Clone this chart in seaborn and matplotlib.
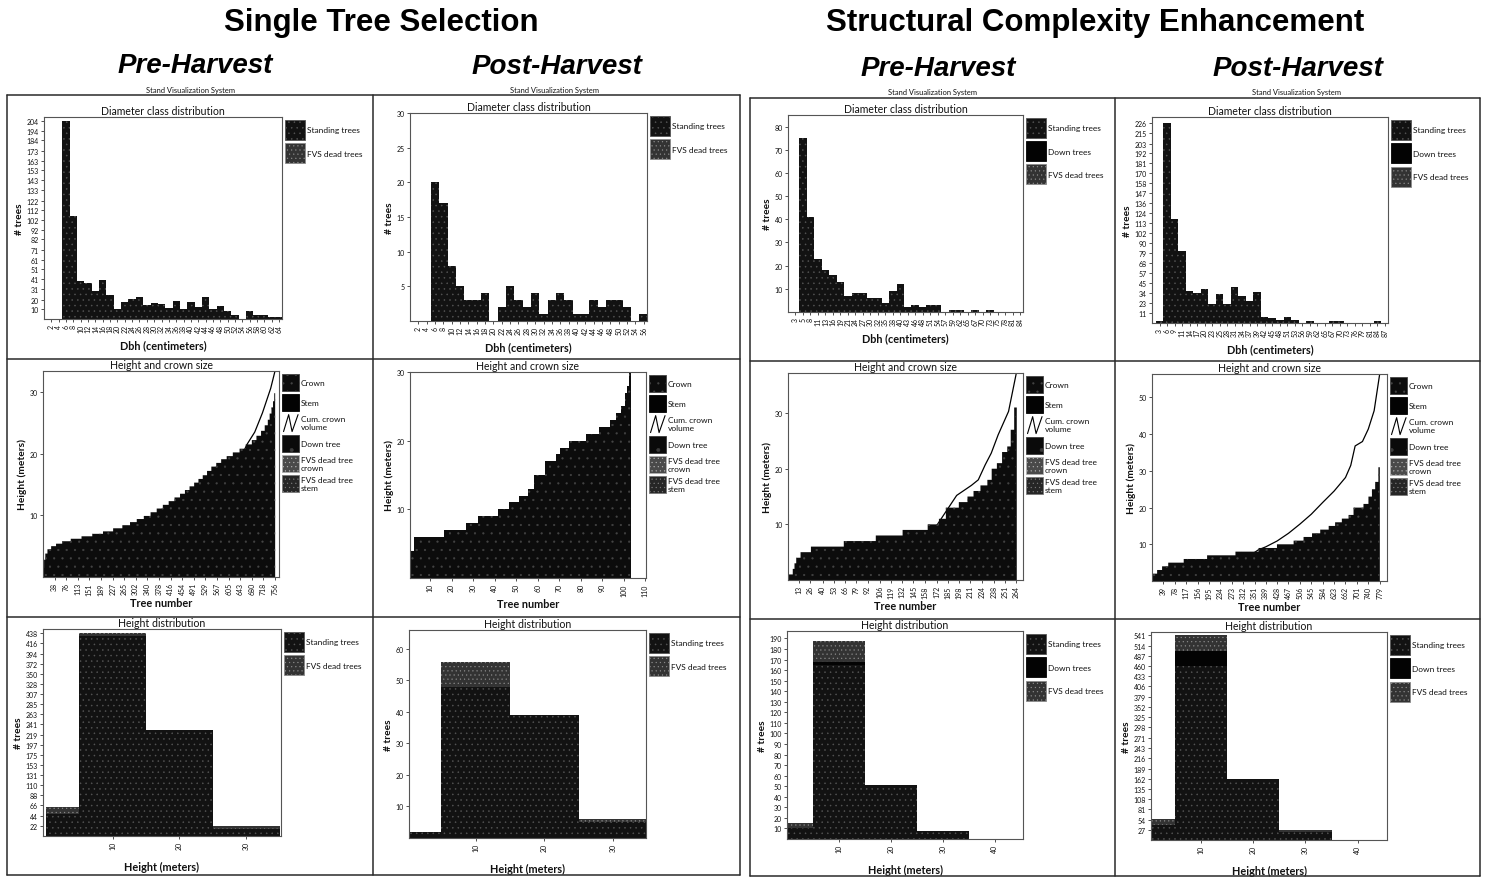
import numpy as np
import pandas as pd
import matplotlib
matplotlib.use("Agg")
import matplotlib.pyplot as plt
import seaborn as sns
from matplotlib.patches import Patch
from matplotlib.lines import Line2D
from matplotlib.legend_handler import HandlerBase
from matplotlib.colors import to_hex

sns.set_style("white")
plt.rcParams["font.family"] = ["Lato", "DejaVu Sans"]
plt.rcParams["hatch.linewidth"] = 0.35

# ------------------------------------------------------------------ data
# Diameter class distribution (number of trees per Dbh class)
sts_pre_dbh_labels = ["2", "4", "6", "8", "10", "12", "14", "16", "18", "20", "22", "24", "26", "28", "30", "32",
                      "34", "36", "38", "40", "42", "44", "46", "48", "50", "52", "54", "56", "58", "60", "62", "64"]
sts_pre_dbh_counts = [0, 0, 204, 106, 39, 37, 29, 40, 25, 10, 18, 21, 23, 14, 16, 15,
                      11, 19, 10, 17, 12, 23, 10, 13, 8, 4, 0, 8, 4, 4, 2, 2]
sts_post_dbh_labels = ["2", "4", "6", "8", "10", "12", "14", "16", "18", "20", "22", "24", "26", "28",
                       "30", "32", "34", "36", "38", "40", "42", "44", "46", "48", "50", "52", "54", "56"]
sts_post_dbh_counts = [0, 0, 20, 17, 8, 5, 3, 3, 4, 0, 2, 5, 3, 2,
                       4, 1, 3, 4, 3, 1, 1, 3, 2, 3, 3, 2, 0, 1]
sce_pre_dbh_labels = ["3", "5", "8", "11", "13", "16", "19", "21", "24", "27", "30", "32", "35", "38", "40", "43",
                      "46", "48", "51", "54", "57", "59", "62", "65", "67", "70", "73", "75", "78", "81", "84"]
sce_pre_dbh_counts = [0, 75, 41, 23, 18, 16, 13, 7, 8, 8, 6, 6, 4, 9, 12, 2,
                      3, 2, 3, 3, 0, 1, 1, 0, 1, 0, 1, 0, 0, 0, 0]
sce_post_dbh_labels = ["3", "6", "9", "11", "14", "17", "20", "23", "25", "28", "31", "34", "37", "39", "42", "45",
                       "48", "51", "53", "56", "59", "62", "65", "67", "70", "73", "76", "79", "81", "84", "87"]
sce_post_dbh_counts = [2, 226, 118, 81, 36, 34, 38, 21, 33, 21, 41, 30, 25, 35, 7, 6,
                       3, 7, 3, 0, 2, 0, 0, 2, 2, 0, 0, 0, 0, 2, 0]

sts_pre_dbh_yticks = [10, 20, 31, 41, 51, 61, 71, 82, 92, 102, 112, 122, 133, 143, 153, 163, 173, 184, 194, 204]
sts_post_dbh_yticks = [5, 10, 15, 20, 25, 30]
sce_pre_dbh_yticks = [10, 20, 30, 40, 50, 60, 70, 80]
sce_post_dbh_yticks = [11, 23, 34, 45, 57, 68, 79, 90, 102, 113, 124, 136, 147, 158, 170, 181, 192, 203, 215, 226]

# Height and crown size: trees sorted by height -> (height level, number of trees at that level)
sts_pre_height_levels = [1.5, 2.8, 3.8, 4.5, 5.0, 5.4, 5.8, 6.2, 6.6, 7.0, 7.4, 7.9, 8.4, 8.9, 9.4, 9.9,
                         10.5, 11.1, 11.7, 12.3, 12.9, 13.5, 14.1, 14.7, 15.3, 15.9, 16.5, 17.2, 17.9, 18.5,
                         19.1, 19.6, 20.2, 20.8, 21.5, 22.2, 22.9, 23.7, 24.6, 25.5, 26.5, 27.5, 28.5, 29.8]
sts_pre_height_counts = [3, 4, 7, 12, 16, 20, 28, 35, 35, 35, 33, 30, 25, 22, 23, 22,
                         20, 20, 19, 19, 18, 16, 15, 15, 14, 14, 14, 14, 16, 16,
                         18, 20, 22, 20, 20, 15, 15, 12, 10, 6, 6, 5, 4, 3]
sts_post_height_levels = [4, 6, 7, 8, 9, 10, 11, 12, 13, 15, 17, 18, 19, 20, 21, 22, 23, 24, 25, 27, 28, 30]
sts_post_height_counts = [2, 14, 10, 6, 9, 5, 5, 4, 3, 5, 5, 2, 4, 8, 6, 5, 3, 2, 2, 1, 1, 1]
sce_pre_height_levels = [1, 2, 3, 4, 5, 6, 7, 8, 9, 10, 11, 13, 14, 15, 16, 17, 18, 20, 21, 23, 24, 27, 31]
sce_pre_height_counts = [5, 2, 2, 5, 12, 38, 37, 31, 29, 13, 8, 15, 10, 7, 8, 8, 5, 6, 6, 6, 4, 4, 3]
sce_post_height_levels = [2, 3, 4, 5, 6, 7, 8, 9, 10, 11, 12, 13, 14, 15, 16, 17, 18, 20, 21, 23, 25, 27, 31]
sce_post_height_counts = [17, 17, 21, 53, 80, 97, 79, 63, 57, 34, 29, 28, 29, 22, 23, 23, 17, 34, 17, 12, 11, 11, 5]

# Cumulative crown volume curve (tree number, scaled value)
sts_pre_cum_trees = [0, 300, 500, 600, 666, 690, 715, 742, 756]
sts_pre_cum_volume = [0, 4, 10, 15, 21.6, 23.5, 26.6, 30.6, 33.4]
sce_pre_cum_trees = [0, 100, 160, 195, 212, 220, 228, 235, 243, 255, 264]
sce_pre_cum_volume = [0, 3, 7, 15.2, 17.0, 18.0, 20.7, 22.8, 26.1, 30.3, 37.2]
sce_post_cum_trees = [0, 200, 300, 364, 389, 428, 467, 506, 545, 584, 623, 662, 680, 695, 720, 740, 760, 779]
sce_post_cum_volume = [0, 2, 5, 8.5, 9.3, 10.9, 13.0, 15.5, 18.2, 21.4, 24.5, 28.2, 31.5, 36.8, 38.0, 41.4, 46.4, 56.4]

sts_pre_tree_ticks = [38, 76, 113, 151, 189, 227, 265, 302, 340, 378, 416, 454, 491, 529, 567, 605, 643, 680, 718, 756]
sts_post_tree_ticks = [10, 20, 30, 40, 50, 60, 70, 80, 90, 100, 110]
sce_pre_tree_ticks = [13, 26, 40, 53, 66, 79, 92, 106, 119, 132, 145, 158, 172, 185, 198, 211, 224, 238, 251, 264]
sce_post_tree_ticks = [39, 78, 117, 156, 195, 234, 273, 312, 351, 389, 428, 467, 506, 545, 584, 623, 662, 701, 740, 779]

# Height distribution (bins in meters, stacked counts)
sts_height_bins = [0, 5, 15, 25, 35]
sce_height_bins = [0, 5, 15, 25, 35, 45]
sts_pre_hd_standing = [48, 432, 228, 16]
sts_pre_hd_dead = [14, 6, 0, 6]
sts_post_hd_standing = [2, 48, 39, 5]
sts_post_hd_dead = [0, 8, 0, 1]
sce_pre_hd_standing = [10, 165, 51, 8, 0]
sce_pre_hd_down = [0, 3, 0, 0, 0]
sce_pre_hd_dead = [5, 20, 0, 0, 0]
sce_post_hd_standing = [40, 460, 160, 22, 0]
sce_post_hd_down = [0, 40, 0, 0, 0]
sce_post_hd_dead = [16, 41, 0, 5, 0]

sts_pre_hd_yticks = [22, 44, 66, 88, 110, 131, 153, 175, 197, 219, 241, 263, 285, 307, 328, 350, 372, 394, 416, 438]
sts_post_hd_yticks = [10, 20, 30, 40, 50, 60]
sce_pre_hd_yticks = [10, 20, 30, 40, 50, 60, 70, 80, 90, 100, 110, 120, 130, 140, 150, 160, 170, 180, 190]
sce_post_hd_yticks = [27, 54, 81, 108, 135, 162, 189, 216, 243, 271, 298, 325, 352, 379, 406, 433, 460, 487, 514, 541]

# ------------------------------------------------------------------ styles
STYLE = {
    "Standing trees": dict(fc="#121212", dot="#555555", hatch="..."),
    "Down trees": dict(fc="#030303", dot="#030303", hatch=None),
    "FVS dead trees": dict(fc="#333333", dot="#8c8c8c", hatch="...."),
}
CROWN = dict(fc="#0c0c0c", dot="#444444", hatch="..")
STEM = dict(fc="#030303", dot="#030303", hatch=None)
DOWN1 = dict(fc="#0a0a0a", dot="#3a3a3a", hatch=".")
FVS_CROWN = dict(fc="#4a4a4a", dot="#b0b0b0", hatch="....")
FVS_STEM = dict(fc="#262626", dot="#7a7a7a", hatch="....")
HEX_STYLE = {to_hex(v["fc"]): v for v in STYLE.values()}

FIG_W, FIG_H = 1485, 878
fig = plt.figure(figsize=(FIG_W / 100, FIG_H / 100), dpi=100)
fig.patch.set_facecolor("white")

TEXT_C = "#111111"


def add_ax(l, t, r, b):
    return fig.add_axes([l / FIG_W, 1 - b / FIG_H, (r - l) / FIG_W, (b - t) / FIG_H])


def style_axes(ax):
    for s in ax.spines.values():
        s.set_color("#555555")
        s.set_linewidth(0.8)
    ax.tick_params(axis="both", which="both", bottom=True, left=True, direction="out", length=2.5,
                   width=0.6, color="#333333", labelsize=5, pad=1.2, labelcolor=TEXT_C)
    ax.tick_params(axis="x", labelrotation=90)
    ax.set_facecolor("white")


class ZigzagHandler(HandlerBase):
    def create_artists(self, legend, orig_handle, xdescent, ydescent, width, height, fontsize, trans):
        x0, y0 = -xdescent, -ydescent
        xs = [x0 + width * 0.1, x0 + width * 0.4, x0 + width * 0.6, x0 + width * 0.95]
        ys = [y0, y0 + height, y0, y0 + height]
        return [Line2D(xs, ys, color="black", lw=0.8, transform=trans)]


def patch_handle(st, label):
    return Patch(facecolor=st["fc"], edgecolor=st["dot"], hatch=st["hatch"], linewidth=0.6, label=label)


def add_legend(ax, handles, hlen, hheight, handler_map=None):
    leg = ax.legend(handles=handles, loc="upper left", bbox_to_anchor=(1.012, 0.985), frameon=False,
                    fontsize=6, handlelength=hlen, handleheight=hheight, handletextpad=0.25,
                    labelspacing=0.4, borderaxespad=0, borderpad=0, handler_map=handler_map)
    for t in leg.get_texts():
        t.set_color(TEXT_C)
    return leg


def titles(ax, title, xlabel, ylabel, xpad):
    ax.set_title(title, fontsize=7.6, pad=2.5, color=TEXT_C)
    ax.set_xlabel(xlabel, fontsize=7.8, fontweight="bold", labelpad=xpad, color=TEXT_C)
    ax.set_ylabel(ylabel, fontsize=7.3, fontweight="bold", labelpad=2, color=TEXT_C)


def draw_diameter(ax, labels, counts, ymax, yticks, types):
    df = pd.DataFrame({"dbh": labels, "trees": counts})
    st = STYLE["Standing trees"]
    sns.barplot(data=df, x="dbh", y="trees", order=labels, color=st["fc"], saturation=1, width=1.0,
                edgecolor=st["dot"], linewidth=0, hatch=st["hatch"], errorbar=None, ax=ax)
    ax.set_xlim(-1.0, len(labels) - 0.6)
    ax.set_ylim(0, ymax)
    ax.set_yticks(yticks, [str(v) for v in yticks])
    style_axes(ax)
    titles(ax, "Diameter class distribution", "Dbh (centimeters)", "# trees", 5)
    add_legend(ax, [patch_handle(STYLE[t], t) for t in types], 2.4, 3.3)


def draw_crown(ax, levels, counts, xlim, ymax, xticks, yticks, cum_x=None, cum_y=None):
    heights = np.repeat(np.asarray(levels, dtype=float), counts)
    df = pd.DataFrame({"tree": np.arange(1, heights.size + 1), "height": heights})
    if cum_x is not None:
        sns.lineplot(x=cum_x, y=cum_y, color="black", linewidth=0.9, estimator=None, ax=ax, zorder=0.5)
    sns.histplot(data=df, x="tree", weights="height", discrete=True,
                 element="step", fill=True, color=CROWN["fc"], alpha=1, linewidth=0, edgecolor=CROWN["dot"],
                 hatch=CROWN["hatch"], ax=ax, zorder=1)
    ax.set_xlim(*xlim)
    ax.set_ylim(0, ymax)
    ax.set_xticks(xticks, [str(v) for v in xticks])
    ax.set_yticks(yticks, [str(v) for v in yticks])
    style_axes(ax)
    titles(ax, "Height and crown size", "Tree number", "Height (meters)", 2)
    cum = Line2D([], [], color="black", lw=0.8, label="Cum. crown\nvolume")
    handles = [patch_handle(CROWN, "Crown"), patch_handle(STEM, "Stem"), cum,
               patch_handle(DOWN1, "Down tree"), patch_handle(FVS_CROWN, "FVS dead tree\ncrown"),
               patch_handle(FVS_STEM, "FVS dead tree\nstem")]
    add_legend(ax, handles, 2.05, 2.75, handler_map={cum: ZigzagHandler()})


def draw_height(ax, edges, series, types, xlim, ymax, xticks, yticks):
    centers = [(edges[i] + edges[i + 1]) / 2 for i in range(len(edges) - 1)]
    rows = []
    for t, vals in zip(types, series):
        for c, v in zip(centers, vals):
            rows.append({"height": c, "type": t, "trees": v})
    df = pd.DataFrame(rows)
    palette = {t: STYLE[t]["fc"] for t in types}
    # seaborn stacks the first hue level on top: dead trees on top, standing trees at the base
    sns.histplot(data=df, x="height", weights="trees", hue="type", hue_order=types[::-1], multiple="stack",
                 bins=list(edges), palette=palette, alpha=1, linewidth=0, legend=False, ax=ax)
    for p in ax.patches:
        st = HEX_STYLE.get(to_hex(p.get_facecolor()))
        if st is not None:
            p.set_edgecolor(st["dot"])
            p.set_linewidth(0)
            if st["hatch"]:
                p.set_hatch(st["hatch"])
    ax.set_xlim(*xlim)
    ax.set_ylim(0, ymax)
    ax.set_xticks(xticks, [str(v) for v in xticks])
    ax.set_yticks(yticks, [str(v) for v in yticks])
    style_axes(ax)
    titles(ax, "Height distribution", "Height (meters)", "# trees", 8)
    add_legend(ax, [patch_handle(STYLE[t], t) for t in types], 2.4, 3.3)


STS_TYPES = ["Standing trees", "FVS dead trees"]
SCE_TYPES = ["Standing trees", "Down trees", "FVS dead trees"]

# ---- row 1
draw_diameter(add_ax(44, 118, 282, 320), sts_pre_dbh_labels, sts_pre_dbh_counts, 208, sts_pre_dbh_yticks, STS_TYPES)
draw_diameter(add_ax(410, 114, 647, 322), sts_post_dbh_labels, sts_post_dbh_counts, 30, sts_post_dbh_yticks, STS_TYPES)
draw_diameter(add_ax(788, 116, 1023, 313), sce_pre_dbh_labels, sce_pre_dbh_counts, 85, sce_pre_dbh_yticks, SCE_TYPES)
draw_diameter(add_ax(1152, 118, 1388, 324), sce_post_dbh_labels, sce_post_dbh_counts, 233, sce_post_dbh_yticks, SCE_TYPES)

# ---- row 2
draw_crown(add_ax(43, 372, 279, 578), sts_pre_height_levels, sts_pre_height_counts, (0, 769), 33.4,
           sts_pre_tree_ticks, [10, 20, 30], sts_pre_cum_trees, sts_pre_cum_volume)
draw_crown(add_ax(410, 373, 646, 579), sts_post_height_levels, sts_post_height_counts, (0.7, 110.3), 30,
           sts_post_tree_ticks, [10, 20, 30])
draw_crown(add_ax(788, 374, 1023, 581), sce_pre_height_levels, sce_pre_height_counts, (0, 271.7), 37.2,
           sce_pre_tree_ticks, [10, 20, 30], sce_pre_cum_trees, sce_pre_cum_volume)
draw_crown(add_ax(1152, 375, 1387, 582), sce_post_height_levels, sce_post_height_counts, (0, 804), 56.4,
           sce_post_tree_ticks, [10, 20, 30, 40, 50], sce_post_cum_trees, sce_post_cum_volume)

# ---- row 3
draw_height(add_ax(43, 630, 281, 837), sts_height_bins, [sts_pre_hd_standing, sts_pre_hd_dead], STS_TYPES,
            (-0.4, 35.2), 447, [10, 20, 30], sts_pre_hd_yticks)
draw_height(add_ax(409, 631, 646, 839), sts_height_bins, [sts_post_hd_standing, sts_post_hd_dead], STS_TYPES,
            (0.3, 34.8), 66, [10, 20, 30], sts_post_hd_yticks)
draw_height(add_ax(787, 632, 1023, 840), sce_height_bins, [sce_pre_hd_standing, sce_pre_hd_down, sce_pre_hd_dead],
            SCE_TYPES, (0.1, 45.4), 197, [10, 20, 30, 40], sce_pre_hd_yticks)
draw_height(add_ax(1151, 633, 1387, 841), sce_height_bins, [sce_post_hd_standing, sce_post_hd_down, sce_post_hd_dead],
            SCE_TYPES, (0.5, 45.6), 550, [10, 20, 30, 40], sce_post_hd_yticks)


# ------------------------------------------------------------------ frames and headings
def fx(x):
    return x / FIG_W


def fy(y):
    return 1 - y / FIG_H


def hline(x0, x1, y):
    fig.add_artist(Line2D([fx(x0), fx(x1)], [fy(y), fy(y)], transform=fig.transFigure, color="#2a2a2a", lw=1.1))


def vline(x, y0, y1):
    fig.add_artist(Line2D([fx(x), fx(x)], [fy(y0), fy(y1)], transform=fig.transFigure, color="#2a2a2a", lw=1.1))


# left group
hline(7, 740, 96); hline(7, 740, 876); vline(7, 96, 876); vline(740, 96, 876); vline(373, 96, 876)
hline(7, 740, 360); hline(7, 740, 618)
# right group
hline(750, 1480, 99); hline(750, 1480, 877); vline(750, 99, 877); vline(1480, 99, 877); vline(1115, 99, 877)
hline(750, 1480, 362); hline(750, 1480, 620)

head_font = ["Liberation Sans", "DejaVu Sans"]
fig.text(fx(381), fy(23), "Single Tree Selection", ha="center", va="center", fontsize=22.5, fontweight="bold",
         family=head_font, color="black")
fig.text(fx(1095), fy(23), "Structural Complexity Enhancement", ha="center", va="center", fontsize=22.5,
         fontweight="bold", family=head_font, color="black")
for x, y, s in [(195, 66, "Pre-Harvest"), (557, 67, "Post-Harvest"), (938, 69, "Pre-Harvest"),
                (1298, 69, "Post-Harvest")]:
    fig.text(fx(x), fy(y), s, ha="center", va="center", fontsize=20, fontweight="bold", fontstyle="italic",
             family=head_font, color="black")
for x, y in [(190, 91), (555, 91), (932, 93), (1297, 93)]:
    fig.text(fx(x), fy(y), "Stand Visualization System", ha="center", va="center", fontsize=5.4, color=TEXT_C)

fig.savefig("out.png", dpi=100, facecolor="white")
